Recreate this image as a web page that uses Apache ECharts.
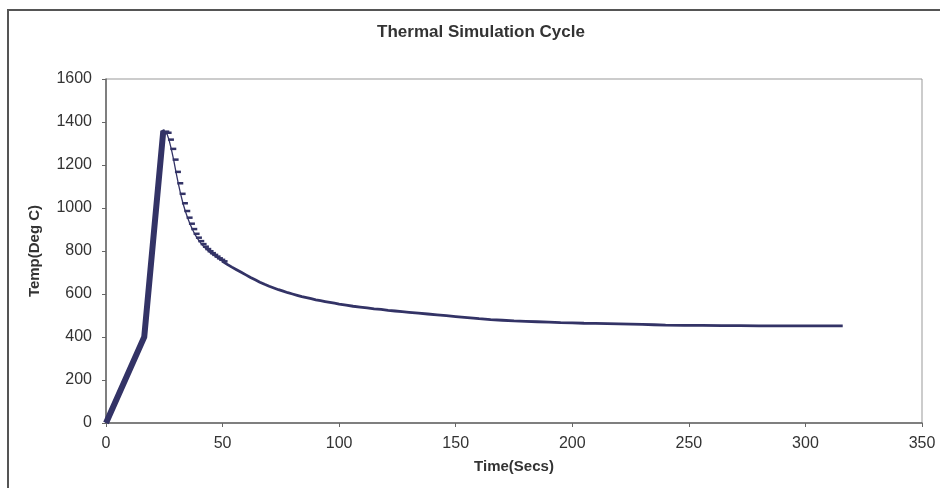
<!DOCTYPE html>
<html>
<head>
<meta charset="utf-8">
<script src="https://cdn.jsdelivr.net/npm/echarts@6/dist/echarts.min.js"></script>
<style>
  html, body { margin: 0; padding: 0; background: #fff; }
  #chart { width: 940px; height: 488px; }
</style>
</head>
<body>
<div id="chart"></div>
<script>
/* ---------- data ---------- */
// heating ramp: time (s), temp (deg C)
const heatTime = [0, 16.4, 24.5, 25.5];
const heatTemp = [0, 400, 1350, 1355];

// fast cooling just after the peak (one reading per second)
const coolFastTime = [
  25, 26, 27, 28, 29, 30, 31, 32, 33, 34, 35, 36, 37, 38, 39, 40,
  41, 42, 43, 44, 45, 46, 47, 48, 49, 50
];
const coolFastTemp = [
  1355, 1350, 1318, 1275, 1225, 1168, 1115, 1066, 1022, 986, 955, 927, 902, 880, 862, 846,
  832, 820, 809, 799, 790, 782, 774, 766, 759, 752
];

// slow cooling tail
const coolSlowTime = [
  50, 52, 54, 56, 58, 60, 62, 64, 66, 68, 70, 72, 74, 76, 78, 80, 82, 84,
  86, 88, 90, 92, 94, 96, 98, 100, 103, 106, 109, 112, 115, 118, 121,
  124, 127, 130, 134, 138, 142, 146, 150, 155, 160, 165, 170, 175,
  180, 185, 190, 195, 200, 205, 210, 215, 220, 225, 230, 235, 240,
  248, 256, 264, 272, 280, 288, 296, 304, 312, 316
];
const coolSlowTemp = [
  752, 738, 725, 713, 701, 689, 677, 666, 655, 645, 636, 628, 620, 613, 606, 600, 594, 588,
  583, 578, 573, 569, 565, 561, 557, 553, 548, 543, 539, 535, 531, 528, 524,
  521, 518, 515, 511, 507, 503, 499, 495, 490, 485, 481, 478, 475,
  473, 471, 469, 467, 466, 464, 463, 462, 461, 460, 459, 457, 455,
  454, 454, 453, 453, 452, 452, 452, 452, 452, 452
];

const xTicks = { min: 0, max: 350, interval: 50 };
const yTicks = { min: 0, max: 1600, interval: 200 };

/* ---------- chart ---------- */
const chart = echarts.init(document.getElementById("chart"));
const font = "'Liberation Sans', Arial, sans-serif";
const navy = "#333366";
const txt = "#333";

const pairs = (xs, ys) => xs.map((t, i) => [t, ys[i]]);

const option = {
  animation: false,
  backgroundColor: "#fff",
  textStyle: { fontFamily: font },
  title: {
    text: "Thermal Simulation Cycle",
    left: 481,
    textAlign: "center",
    top: 24,
    padding: 0,
    textStyle: { fontSize: 17, fontWeight: "bold", color: txt, fontFamily: font },
  },
  grid: { left: 106, right: 18, top: 79, bottom: 65, show: true, borderColor: "#999", borderWidth: 1 },
  xAxis: {
    type: "value",
    ...xTicks,
    name: "Time(Secs)",
    nameLocation: "middle",
    nameGap: 36,
    nameTextStyle: { fontSize: 15, fontWeight: "bold", color: txt, fontFamily: font },
    axisLine: { show: true, lineStyle: { color: "#666", width: 1.5 } },
    axisTick: { show: true, length: 4, lineStyle: { color: "#666" } },
    axisLabel: { fontSize: 16, color: txt, margin: 13, fontFamily: font, formatter: (v) => String(v) },
    splitLine: { show: false },
  },
  yAxis: {
    type: "value",
    ...yTicks,
    name: "Temp(Deg C)",
    nameLocation: "middle",
    nameGap: 64,
    nameTextStyle: { fontSize: 15, fontWeight: "bold", color: txt, fontFamily: font },
    axisLine: { show: true, lineStyle: { color: "#666", width: 1.5 } },
    axisTick: { show: true, length: 4, lineStyle: { color: "#666" } },
    axisLabel: { fontSize: 16, color: txt, margin: 14, fontFamily: font, formatter: (v) => String(v) },
    splitLine: { show: false },
  },
  graphic: [
    {
      type: "rect",
      shape: { x: 8, y: 10, width: 1200, height: 1200 },
      style: { fill: "none", stroke: "#555", lineWidth: 2 },
      silent: true,
      z: 100,
    },
  ],
  series: [
    {
      name: "heating",
      type: "line",
      data: pairs(heatTime, heatTemp),
      symbol: "none",
      lineStyle: { color: navy, width: 6, cap: "butt", join: "miter" },
    },
    {
      name: "cooling fast",
      type: "line",
      data: pairs(coolFastTime, coolFastTemp),
      symbol: "rect",
      symbolSize: [6, 2.5],
      symbolOffset: [2, 0],
      itemStyle: { color: navy },
      lineStyle: { color: navy, width: 1.3 },
    },
    {
      name: "cooling slow",
      type: "line",
      data: pairs(coolSlowTime, coolSlowTemp),
      symbol: "none",
      lineStyle: { color: navy, width: 2.8 },
    },
  ],
};

chart.setOption(option);
</script>
</body>
</html>
